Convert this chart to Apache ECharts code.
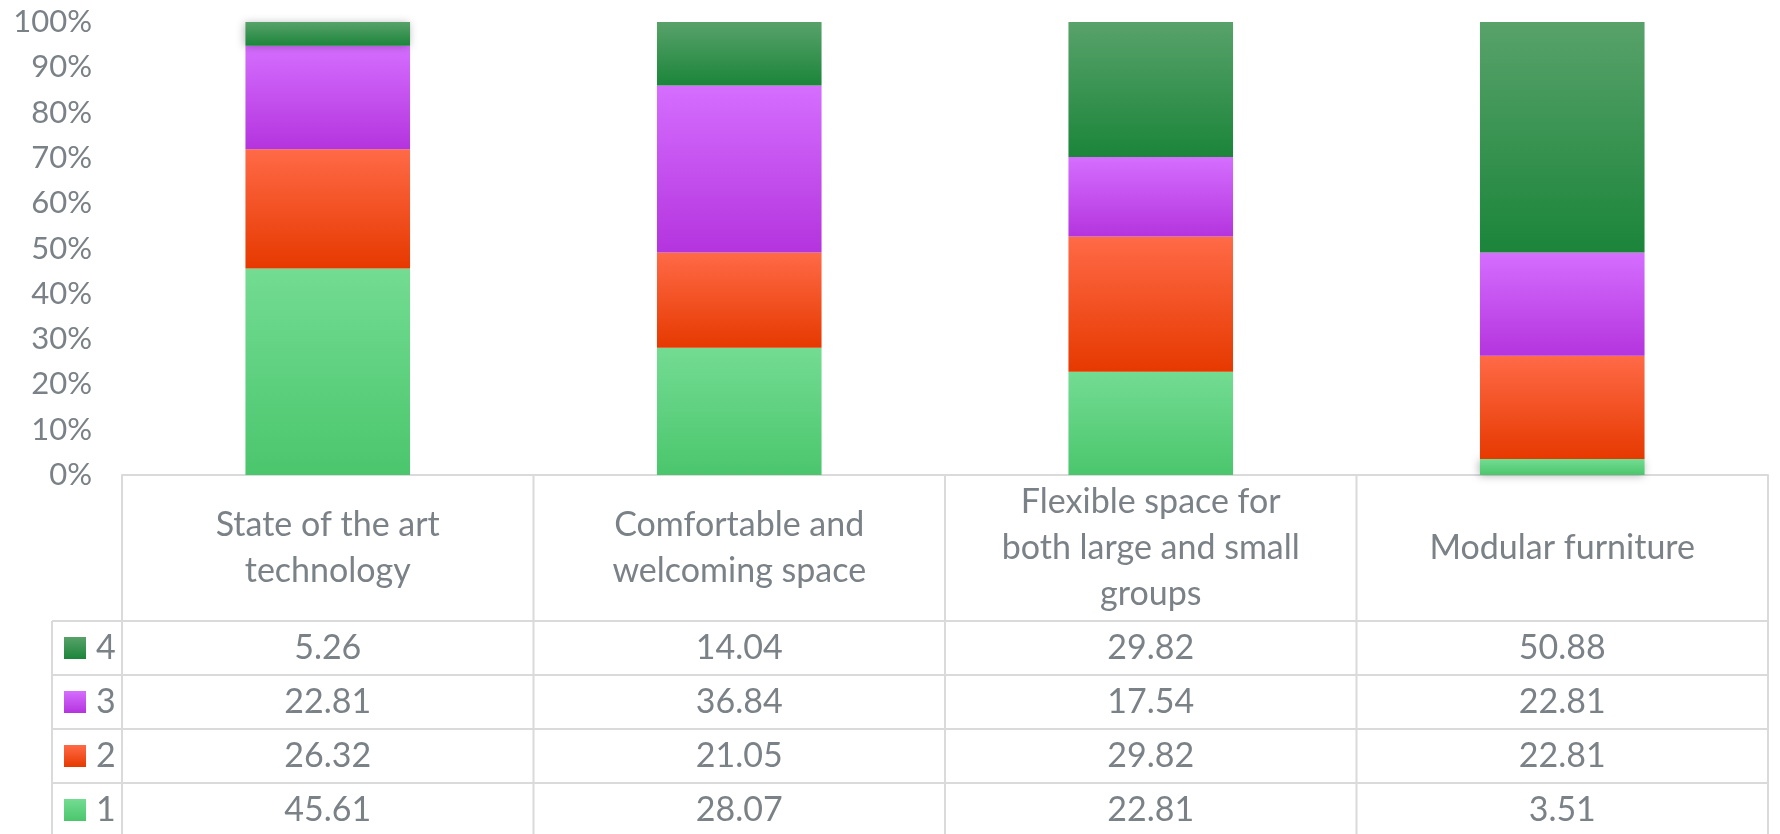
<!DOCTYPE html>
<html>
<head>
<meta charset="utf-8">
<script src="https://cdn.jsdelivr.net/npm/echarts@6/dist/echarts.min.js"></script>
<style>
  html, body { margin: 0; padding: 0; background: #fff; }
  #chart { width: 1780px; height: 834px; }
</style>
</head>
<body>
<div id="chart"></div>
<script>
// Categories, in axis order. "\n" is where the table header wraps.
const CATEGORIES = [
  "State of the art\ntechnology",
  "Comfortable and\nwelcoming space",
  "Flexible space for\nboth large and small\ngroups",
  "Modular furniture",
];
const SERIES_NAMES = ["1", "2", "3", "4"];
const RATING_1 = [45.61, 28.07, 22.81, 3.51];
const RATING_2 = [26.32, 21.05, 29.82, 22.81];
const RATING_3 = [22.81, 36.84, 17.54, 22.81];
const RATING_4 = [5.26, 14.04, 29.82, 50.88];
const Y_TICKS = [0, 10, 20, 30, 40, 50, 60, 70, 80, 90, 100];

// Excel-style vertical gradients, light at the top of each segment.
const GRADIENTS = [
  ["#73dc92", "#4bc66d"],
  ["#ff6a47", "#e63900"],
  ["#d56eff", "#b434de"],
  ["#58a26a", "#1b853a"],
];
const TEXT = "#7a8187";
const RULE = "#dadada";
const FONT = "Lato";
const WEIGHT = 400;

const RAW = [RATING_1, RATING_2, RATING_3, RATING_4];
// 100% stacked: each column is shown as its share of the column total.
const totals = CATEGORIES.map((_, i) => RAW.reduce((s, arr) => s + arr[i], 0));
const shares = RAW.map((arr) => arr.map((v, i) => (v / totals[i]) * 100));

function grad(i) {
  return new echarts.graphic.LinearGradient(0, 0, 0, 1, [
    { offset: 0, color: GRADIENTS[i][0] },
    { offset: 1, color: GRADIENTS[i][1] },
  ]);
}

const chart = echarts.init(document.getElementById("chart"));

const GRID = { left: 122, right: 12, top: 22, bottom: 359 };

chart.setOption({
  animation: false,
  textStyle: { fontFamily: FONT },
  grid: GRID,
  xAxis: {
    type: "category",
    data: CATEGORIES,
    axisLine: { lineStyle: { color: RULE, width: 2 } },
    axisTick: { show: false },
    axisLabel: { show: false },
  },
  yAxis: {
    type: "value",
    min: 0,
    max: 100,
    interval: 10,
    axisLine: { show: false },
    axisTick: { show: false },
    splitLine: { show: false },
    axisLabel: {
      formatter: (v) => (Y_TICKS.includes(v) ? v + "%" : ""),
      color: TEXT,
      fontSize: 31,
      fontFamily: FONT,
      fontWeight: WEIGHT,
      margin: 30,
    },
  },
  series: SERIES_NAMES.map((name, i) => ({
    name,
    type: "bar",
    stack: "total",
    barCategoryGap: "60%",
    data: shares[i],
    itemStyle: {
      color: grad(i),
      shadowBlur: 8,
      shadowColor: "rgba(0,0,0,0.28)",
      shadowOffsetX: -1,
      shadowOffsetY: 1,
    },
  })),
});

// Data table under the plot, laid out from the axis' own pixel positions.
const centers = CATEGORIES.map((_, i) => chart.convertToPixel({ xAxisIndex: 0 }, i));
const band = centers[1] - centers[0];
const colEdges = [centers[0] - band / 2, ...centers.map((c) => c + band / 2)];
const axisY = chart.convertToPixel({ yAxisIndex: 0 }, 0);
const headerBottom = axisY + 146;
const ROW_H = 54;
const legendLeft = 52;
const tableBottom = 834 + 10;

const graphic = [];
const line = (x1, y1, x2, y2) =>
  graphic.push({
    type: "line",
    shape: { x1, y1, x2, y2 },
    style: { stroke: RULE, lineWidth: 2 },
    silent: true,
  });
const text = (x, y, str, align, size) =>
  graphic.push({
    type: "text",
    x,
    y,
    style: {
      text: str,
      fill: TEXT,
      font: `${WEIGHT} ${size}px ${FONT}`,
      align,
      verticalAlign: "middle",
      lineHeight: 46,
    },
    silent: true,
  });

// vertical rules
colEdges.forEach((x) => line(x, axisY, x, tableBottom));
line(legendLeft, headerBottom, legendLeft, tableBottom);
// horizontal rules
for (let r = 0; r < 4; r++) {
  const y = headerBottom + r * ROW_H;
  line(legendLeft, y, colEdges[colEdges.length - 1], y);
}

// header: category names
CATEGORIES.forEach((c, i) => text(centers[i], (axisY + headerBottom) / 2, c, "center", 34));

// rows: series 4 first, down to series 1
const order = [3, 2, 1, 0];
order.forEach((s, r) => {
  const cy = headerBottom + r * ROW_H + ROW_H / 2;
  graphic.push({
    type: "rect",
    shape: { x: legendLeft + 12, y: cy - 11, width: 22, height: 22 },
    style: { fill: grad(s) },
    silent: true,
  });
  text(legendLeft + 44, cy, SERIES_NAMES[s], "left", 34);
  RAW[s].forEach((v, i) => text(centers[i], cy, v.toFixed(2), "center", 34));
});

chart.setOption({ graphic });
window.addEventListener("resize", () => chart.resize());
</script>
</body>
</html>
